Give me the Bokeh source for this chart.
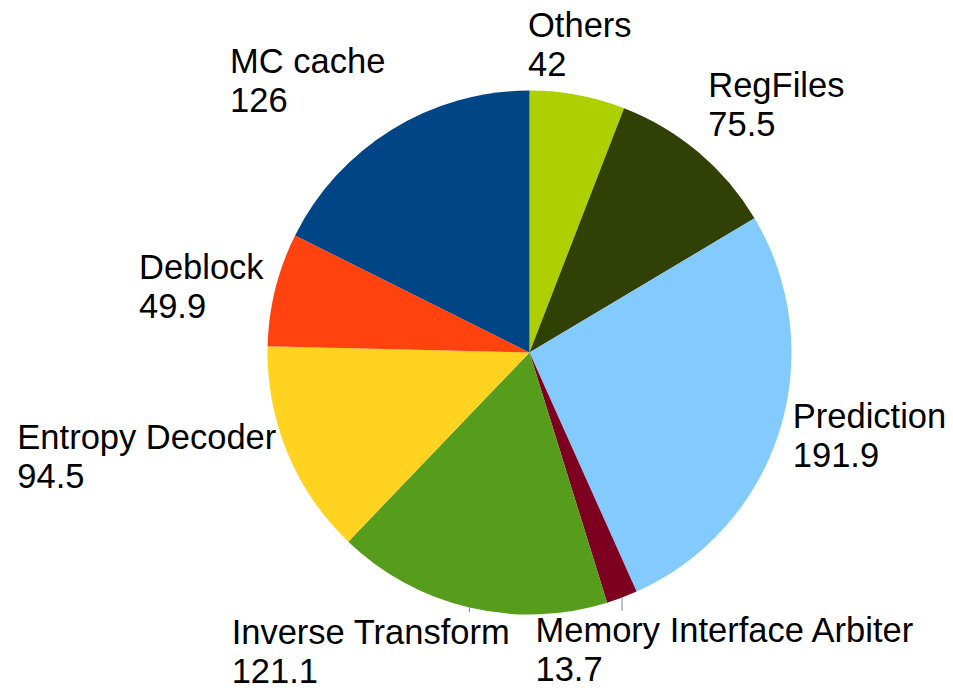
import math
from bokeh.plotting import figure
from bokeh.models import Range1d
from bokeh.core.properties import value
from bokeh.embed import file_html
from bokeh.resources import INLINE

# ---- data ----
names = ["Others", "RegFiles", "Prediction", "Memory Interface Arbiter",
         "Inverse Transform", "Entropy Decoder", "Deblock", "MC cache"]
values = [42, 75.5, 191.9, 13.7, 121.1, 94.5, 49.9, 126]
value_labels = ["42", "75.5", "191.9", "13.7", "121.1", "94.5", "49.9", "126"]
colors = ["#aecf00", "#314004", "#83caff", "#7e0021",
          "#579d1c", "#ffd320", "#ff420e", "#004586"]

# ---- layout (pixel-like data coordinates, y measured downward then flipped) ----
W, H = 945, 689
CX, CY, R = 529, 352, 262
LABEL_GAP = 12
LINE_H = 39
FONT = "Liberation Sans"
FS = 34.5
FONT_SIZE = "%gpx" % FS
# labels that the original layout pushed sideways (with a leader line): (dx, dy)
label_shift = {"Memory Interface Arbiter": (99, 2), "Inverse Transform": (-95, -7)}

# Liberation Sans (Arial-metric) advance widths, per 1000 em, for block widths
ADV = {" ": 278, ".": 278, "A": 667, "B": 667, "C": 722, "D": 722, "E": 667,
       "F": 611, "G": 778, "H": 722, "I": 278, "M": 833, "O": 778, "P": 667,
       "R": 722, "T": 611, "a": 556, "b": 556, "c": 500, "d": 556, "e": 556,
       "f": 278, "g": 556, "h": 556, "i": 222, "k": 500, "l": 222, "m": 833,
       "n": 556, "o": 556, "p": 556, "r": 333, "s": 500, "t": 278, "u": 556,
       "v": 500, "x": 500, "y": 500}


def text_w(s):
    return sum(ADV.get(ch, 556) for ch in s) / 1000.0 * FS


def Y(ys):
    return H - ys


p = figure(width=W, height=H, x_range=Range1d(0, W), y_range=Range1d(0, H),
           output_backend="svg", toolbar_location=None, min_border=0,
           x_axis_location=None, y_axis_location=None)
p.outline_line_color = None
p.grid.visible = False
p.background_fill_color = "white"
p.border_fill_color = "white"

total = sum(values)
cum = 0.0
starts, ends, mids = [], [], []
for v in values:
    a0 = cum / total * 360.0
    cum += v
    a1 = cum / total * 360.0
    starts.append(math.radians(90 - a0))
    ends.append(math.radians(90 - a1))
    mids.append((a0 + a1) / 2.0)

p.wedge(x=[CX] * len(values), y=[Y(CY)] * len(values), radius=R,
        start_angle=starts, end_angle=ends, direction="clock",
        fill_color=colors, line_color=None)

for name, vlab, th in zip(names, value_labels, mids):
    t = math.radians(th)
    s, c = math.sin(t), math.cos(t)
    px = CX + (R + LABEL_GAP) * s
    py = CY - (R + LABEL_GAP) * c
    bw = max(text_w(name), text_w(vlab))
    # vertical placement of the two-line block
    if abs(c) < 0.45:
        top = py - LINE_H
    elif c > 0:
        top = py - 2 * LINE_H
    else:
        top = py
    ax = px
    if name in label_shift:
        dx, dy = label_shift[name]
        ex = CX + R * s
        ey = CY - R * c
        top = top + dy
        p.segment(x0=[ex], y0=[Y(ey)], x1=[ex], y1=[Y(top)],
                  line_color="#808080", line_width=1)
        ax = px + dx
    # horizontal placement of the block; lines are left-aligned inside it
    if abs(s) < 0.38:
        left = ax - bw / 2
    elif s > 0:
        left = ax + 2
    else:
        left = ax - bw
    for i, txt in enumerate([name, vlab]):
        p.text(x=[left], y=[Y(top + LINE_H / 2 + i * LINE_H)], text=[txt],
               text_font=value(FONT), text_font_size=FONT_SIZE,
               text_align="left", text_baseline="middle", text_color="black")

open("out.html", "w").write(file_html(p, INLINE))
